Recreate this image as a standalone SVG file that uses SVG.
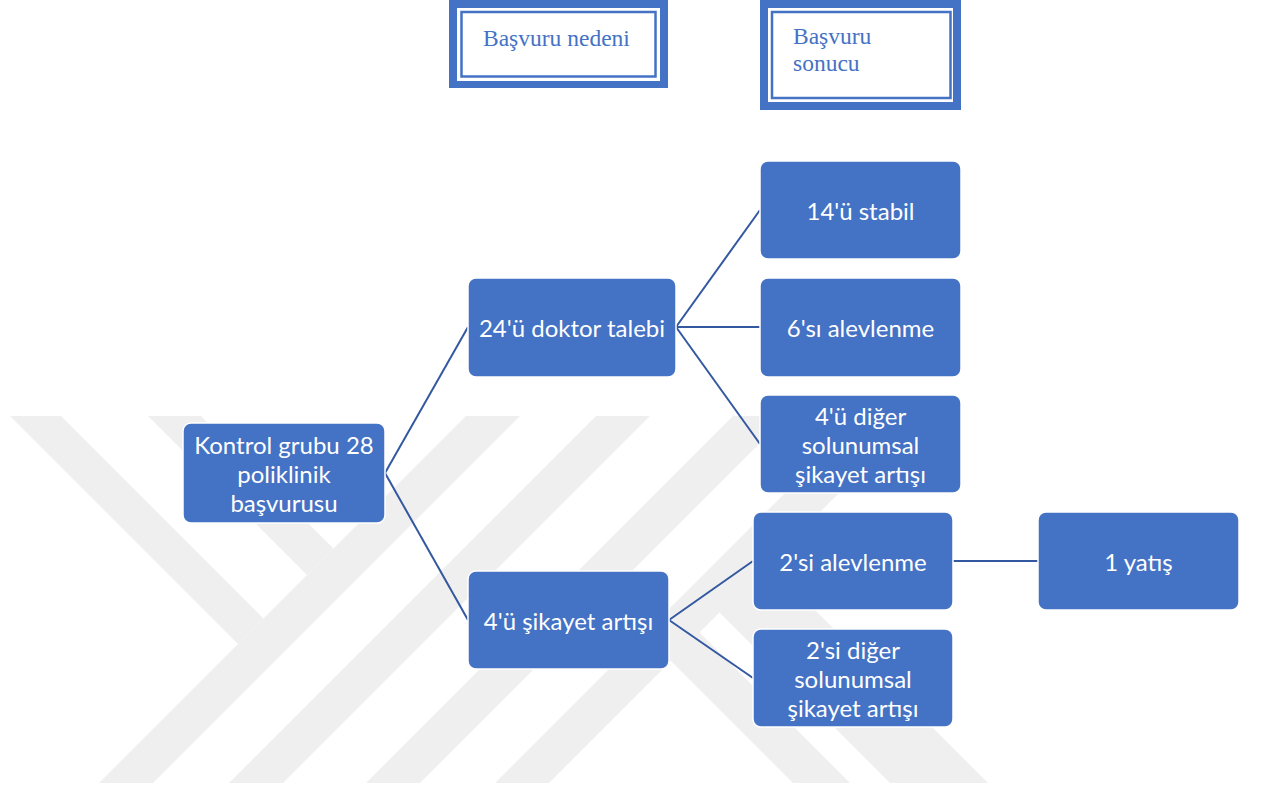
<svg xmlns="http://www.w3.org/2000/svg" width="1262" height="791" viewBox="0 0 1262 791">
  <style>
    .wm { fill: #efefef; }
    .node { fill: #4472c4; stroke: #ffffff; stroke-width: 1.5; }
    .label { fill: #ffffff; font-family: Lato, "Open Sans", sans-serif; font-size: 24px; text-anchor: middle; dominant-baseline: central; }
    .frame-outer { fill: #4472c4; }
    .frame-gap { fill: #ffffff; }
    .frame-inner { fill: #ffffff; stroke: #4472c4; stroke-width: 2.5; }
    .head { fill: #4472c4; font-family: "Liberation Serif", serif; font-size: 23.5px; }
    .conn { stroke: #3358a0; stroke-width: 2; fill: none; }
  </style>
  <defs>
    <clipPath id="wmClip">
      <rect x="0" y="416" width="1262" height="367"/>
    </clipPath>
  </defs>

  <rect x="0" y="0" width="1262" height="791" fill="#ffffff"/>

  <!-- background watermark: diagonal stripes -->
  <g id="watermark" clip-path="url(#wmClip)">
    <polygon class="wm" points="10,416 61,416 263.5,618.5 238,644"/>
    <polygon class="wm" points="148,416 201,416 333.5,548.5 307,575"/>
    <polygon class="wm" points="466,416 520,416 153,783 99,783"/>
    <polygon class="wm" points="596,416 650,416 283,783 229,783"/>
    <polygon class="wm" points="733,416 787,416 420,783 366,783"/>
    <polygon class="wm" points="862,416 916,416 549,783 495,783"/>
    <polygon class="wm" points="793,783 850,783 672.5,605.5 644,634"/>
    <polygon class="wm" points="890,783 988,783 768,563 719,612"/>
  </g>

  <!-- column headers -->
  <g id="head-reason">
    <rect class="frame-outer" x="449" y="0" width="219" height="88"/>
    <rect class="frame-gap" x="457" y="8" width="203" height="73"/>
    <rect class="frame-inner" x="461.5" y="12" width="194" height="64.5"/>
    <text class="head" x="483" y="46">Başvuru nedeni</text>
  </g>
  <g id="head-result">
    <rect class="frame-outer" x="760" y="0" width="201" height="110"/>
    <rect class="frame-gap" x="768" y="8" width="185" height="94"/>
    <rect class="frame-inner" x="772" y="12" width="178.5" height="86"/>
    <text class="head" x="793" y="44">Başvuru</text>
    <text class="head" x="793" y="71">sonucu</text>
  </g>

  <!-- connectors -->
  <g id="connectors">
    <line class="conn" x1="385" y1="473" x2="468" y2="327"/>
    <line class="conn" x1="385" y1="473" x2="468" y2="620"/>
    <line class="conn" x1="676" y1="327" x2="760" y2="210"/>
    <line class="conn" x1="676" y1="327" x2="760" y2="327"/>
    <line class="conn" x1="676" y1="327" x2="760" y2="444"/>
    <line class="conn" x1="669" y1="620" x2="753" y2="561"/>
    <line class="conn" x1="669" y1="620" x2="753" y2="678"/>
    <line class="conn" x1="953" y1="561" x2="1038" y2="561"/>
  </g>

  <!-- nodes -->
  <g id="n-root">
    <rect class="node" x="183" y="423" width="202" height="100" rx="8"/>
    <text class="label" x="284" y="444">Kontrol grubu 28</text>
    <text class="label" x="284" y="473">poliklinik</text>
    <text class="label" x="284" y="502">başvurusu</text>
  </g>
  <g id="n-doctor">
    <rect class="node" x="468" y="278" width="208" height="99" rx="8"/>
    <text class="label" x="572" y="327">24'ü doktor talebi</text>
  </g>
  <g id="n-complaint">
    <rect class="node" x="468" y="571" width="201" height="98" rx="8"/>
    <text class="label" x="568.5" y="620">4'ü şikayet artışı</text>
  </g>
  <g id="n-stable">
    <rect class="node" x="760" y="161" width="201" height="98" rx="8"/>
    <text class="label" x="860.5" y="210">14'ü stabil</text>
  </g>
  <g id="n-flare6">
    <rect class="node" x="760" y="278" width="201" height="99" rx="8"/>
    <text class="label" x="860.5" y="327">6'sı alevlenme</text>
  </g>
  <g id="n-other4">
    <rect class="node" x="760" y="395" width="201" height="98" rx="8"/>
    <text class="label" x="860.5" y="415">4'ü diğer</text>
    <text class="label" x="860.5" y="444">solunumsal</text>
    <text class="label" x="860.5" y="473">şikayet artışı</text>
  </g>
  <g id="n-flare2">
    <rect class="node" x="753" y="512" width="200" height="98" rx="8"/>
    <text class="label" x="853" y="561">2'si alevlenme</text>
  </g>
  <g id="n-other2">
    <rect class="node" x="753" y="629" width="200" height="98" rx="8"/>
    <text class="label" x="853" y="649">2'si diğer</text>
    <text class="label" x="853" y="678">solunumsal</text>
    <text class="label" x="853" y="707">şikayet artışı</text>
  </g>
  <g id="n-admit">
    <rect class="node" x="1038" y="512" width="201" height="98" rx="8"/>
    <text class="label" x="1138.5" y="561">1 yatış</text>
  </g>
</svg>
